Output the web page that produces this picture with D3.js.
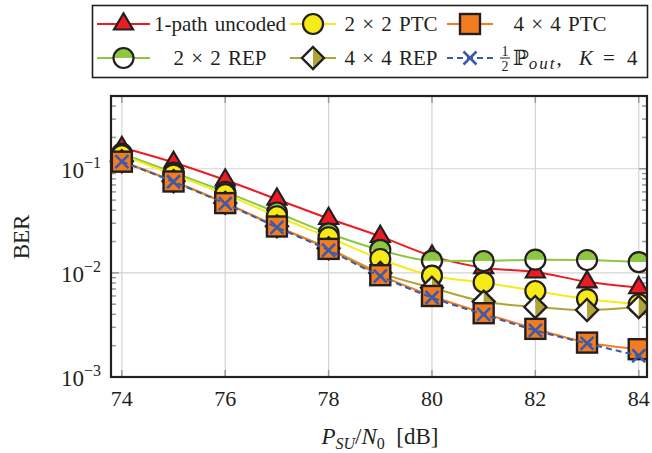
<!DOCTYPE html>
<html lang="en">
<head>
<meta charset="UTF-8">
<title>BER vs PSU/N0</title>
<script src="https://d3js.org/d3.v7.min.js"></script>
<style>
body { margin: 0; background: #fff; }
text { font-family: 'Liberation Serif', 'DejaVu Serif', serif; fill: #231f20; }
</style>
</head>
<body>
<svg id="chart" width="652" height="453"></svg>
<script>
// data
const snr = [74, 75, 76, 77, 78, 79, 80, 81, 82, 83, 84];
const uncoded = [0.160, 0.115, 0.078, 0.051, 0.0333, 0.0224, 0.0145, 0.0112, 0.0102, 0.0082, 0.0072];
const ptc2 = [0.135, 0.088, 0.057, 0.035, 0.0220, 0.0136, 0.0094, 0.0081, 0.0067, 0.0056, 0.0050];
const ptc4 = [0.117, 0.0755, 0.0468, 0.0279, 0.0170, 0.0095, 0.0060, 0.0041, 0.0029, 0.00214, 0.00185];
const rep2 = [0.140, 0.092, 0.060, 0.038, 0.0240, 0.0166, 0.0131, 0.0130, 0.0134, 0.0133, 0.0127];
const rep4 = [0.118, 0.076, 0.047, 0.028, 0.0172, 0.0100, 0.0072, 0.0053, 0.0047, 0.0044, 0.0047];
const pout = [0.117, 0.0750, 0.0462, 0.0274, 0.0165, 0.0093, 0.0058, 0.0040, 0.0028, 0.0021, 0.0016];
const xTicks = [74, 76, 78, 80, 82, 84];
const yTicks = [1e-3, 1e-2, 1e-1];

const svg = d3.select('#chart');
const pLeft = 111, pRight = 647, pTop = 96, pBottom = 377;

const x = d3.scaleLinear().domain([73.79, 84.16]).range([pLeft, pRight]);
const y = d3.scaleLog().domain([1e-3, 0.5]).range([pBottom, pTop]);

const ink = '#231f20';

const series = [
  {name: 'uncoded', vals: uncoded, color: '#ed1c24', marker: 'tri', fill: '#ed1c24'},
  {name: 'rep2', vals: rep2, color: '#8dc63f', marker: 'halfcircle', fill: '#8dc63f'},
  {name: 'ptc2', vals: ptc2, color: '#f6eb16', marker: 'circle', fill: '#f6eb16'},
  {name: 'rep4', vals: rep4, color: '#b1a437', marker: 'diamond', fill: '#b1a437'},
  {name: 'ptc4', vals: ptc4, color: '#f47c20', marker: 'square', fill: '#f47c20'},
  {name: 'pout', vals: pout, color: '#3b5ba9', marker: 'cross', dash: '6,4'}
];

// grid
const grid = svg.append('g');
grid.selectAll('line.gx').data(xTicks).enter().append('line')
  .attr('x1', d => x(d)).attr('x2', d => x(d)).attr('y1', pTop).attr('y2', pBottom)
  .attr('stroke', '#d4d4d4').attr('stroke-width', 1.2);
grid.selectAll('line.gy').data([1e-2, 1e-1]).enter().append('line')
  .attr('x1', pLeft).attr('x2', pRight).attr('y1', d => y(d)).attr('y2', d => y(d))
  .attr('stroke', '#d4d4d4').attr('stroke-width', 1.2);

// ticks (inside, both sides)
const tk = svg.append('g').attr('stroke', '#9a9a9a').attr('stroke-width', 1.5);
xTicks.forEach(v => {
  tk.append('line').attr('x1', x(v)).attr('x2', x(v)).attr('y1', pBottom).attr('y2', pBottom - 7);
  tk.append('line').attr('x1', x(v)).attr('x2', x(v)).attr('y1', pTop).attr('y2', pTop + 7);
});
const minor = [];
[1e-3, 1e-2, 1e-1].forEach(p => { for (let k = 2; k <= 9; k++) if (p * k <= 0.5) minor.push(p * k); });
minor.forEach(v => {
  tk.append('line').attr('x1', pLeft).attr('x2', pLeft + 5).attr('y1', y(v)).attr('y2', y(v));
  tk.append('line').attr('x1', pRight).attr('x2', pRight - 5).attr('y1', y(v)).attr('y2', y(v));
});
yTicks.forEach(v => {
  tk.append('line').attr('x1', pLeft).attr('x2', pLeft + 8).attr('y1', y(v)).attr('y2', y(v));
  tk.append('line').attr('x1', pRight).attr('x2', pRight - 8).attr('y1', y(v)).attr('y2', y(v));
});

// marker drawing
function drawMarker(g, s) {
  const m = s.marker;
  if (m === 'tri') {
    g.append('path').attr('d', 'M0,-10.7L9.5,5.5L-9.5,5.5Z')
      .attr('fill', s.fill).attr('stroke', ink).attr('stroke-width', 2.2).attr('stroke-linejoin', 'miter');
  } else if (m === 'circle') {
    g.append('circle').attr('r', 10).attr('fill', s.fill).attr('stroke', ink).attr('stroke-width', 2.2);
  } else if (m === 'halfcircle') {
    g.append('circle').attr('r', 10).attr('fill', '#fff');
    g.append('path').attr('d', 'M-10,0A10,10 0 0 1 10,0Z').attr('fill', s.fill);
    g.append('circle').attr('r', 10).attr('fill', 'none').attr('stroke', ink).attr('stroke-width', 2.2);
  } else if (m === 'square') {
    g.append('rect').attr('x', -10).attr('y', -10).attr('width', 20).attr('height', 20)
      .attr('fill', s.fill).attr('stroke', ink).attr('stroke-width', 2.4);
  } else if (m === 'diamond') {
    g.append('path').attr('d', 'M0,-11L0,11L-11,0Z').attr('fill', '#fff');
    g.append('path').attr('d', 'M0,-11L11,0L0,11Z').attr('fill', s.fill);
    g.append('path').attr('d', 'M0,-11L11,0L0,11L-11,0Z').attr('fill', 'none')
      .attr('stroke', ink).attr('stroke-width', 2.4);
  } else if (m === 'cross') {
    g.append('path').attr('d', 'M-6.5,-6.5L6.5,6.5M-6.5,6.5L6.5,-6.5')
      .attr('stroke', s.color).attr('stroke-width', 2.6).attr('fill', 'none');
  }
}

svg.append('defs').append('clipPath').attr('id', 'clip')
  .append('rect').attr('x', 0).attr('y', 0).attr('width', pRight + 1).attr('height', 453);

const plot = svg.append('g').attr('clip-path', 'url(#clip)');
const line = d3.line().x(d => x(d[0])).y(d => y(d[1])).curve(d3.curveMonotoneX);

series.forEach(s => {
  const pts = snr.map((v, i) => [v, s.vals[i]]);
  plot.append('path').datum(pts).attr('d', line)
    .attr('fill', 'none').attr('stroke', s.color).attr('stroke-width', 2)
    .attr('stroke-dasharray', s.dash || null);
  pts.forEach(p => {
    const g = plot.append('g').attr('transform', `translate(${x(p[0])},${y(p[1])})`);
    drawMarker(g, s);
  });
});

// frame
svg.append('rect').attr('x', pLeft).attr('y', pTop).attr('width', pRight - pLeft).attr('height', pBottom - pTop)
  .attr('fill', 'none').attr('stroke', ink).attr('stroke-width', 2.2);

// tick labels
svg.selectAll('text.xt').data(xTicks).enter().append('text')
  .attr('x', d => x(d)).attr('y', 406).attr('text-anchor', 'middle')
  .style('font-size', '22px').text(d => d);

yTicks.forEach(v => {
  const t = svg.append('text').attr('x', 101).attr('y', y(v) + 9).attr('text-anchor', 'end')
    .style('font-size', '23px');
  t.append('tspan').text('10');
  t.append('tspan').attr('dy', -10).style('font-size', '16px').text('\u2212' + Math.round(-Math.log10(v)));
});

// axis labels
svg.append('text').attr('transform', 'translate(29,237) rotate(-90)').attr('text-anchor', 'middle')
  .style('font-size', '23px').text('BER');

const xl = svg.append('text').attr('x', 380).attr('y', 444).attr('text-anchor', 'middle').style('font-size', '23px');
xl.append('tspan').style('font-style', 'italic').text('P');
xl.append('tspan').attr('dy', 5).style('font-size', '16px').style('font-style', 'italic').text('SU');
xl.append('tspan').attr('dy', -5).text('/');
xl.append('tspan').style('font-style', 'italic').text('N');
xl.append('tspan').attr('dy', 5).style('font-size', '16px').text('0');
xl.append('tspan').attr('dy', -5).text('\u00a0\u00a0[dB]');

// legend
const leg = svg.append('g');
leg.append('rect').attr('x', 92.5).attr('y', 5.5).attr('width', 555).attr('height', 72)
  .attr('fill', '#fff').attr('stroke', ink).attr('stroke-width', 1.6);

const cols = [{x0: 97, x1: 150, tx: 220}, {x0: 290, x1: 336, tx: 391}, {x0: 447, x1: 493, tx: 560}];
const rows = [24, 58];
const legendItems = [
  {s: series[0], col: 0, row: 0, label: '1-path uncoded'},
  {s: series[2], col: 1, row: 0, label: '2 \u00d7 2 PTC'},
  {s: series[4], col: 2, row: 0, label: '4 \u00d7 4 PTC'},
  {s: series[1], col: 0, row: 1, label: '2 \u00d7 2 REP'},
  {s: series[3], col: 1, row: 1, label: '4 \u00d7 4 REP'},
  {s: series[5], col: 2, row: 1, label: null}
];
legendItems.forEach(it => {
  const c = cols[it.col], yy = rows[it.row];
  leg.append('line').attr('x1', c.x0).attr('x2', c.x1).attr('y1', yy).attr('y2', yy)
    .attr('stroke', it.s.color).attr('stroke-width', 2).attr('stroke-dasharray', it.s.dash || null);
  const g = leg.append('g').attr('transform', `translate(${(c.x0 + c.x1) / 2},${yy})`);
  drawMarker(g, it.s);
  if (it.label) {
    leg.append('text').attr('x', c.tx).attr('y', yy + 7).attr('text-anchor', 'middle')
      .style('font-size', '21px').style('word-spacing', '2px').text(it.label);
  }
});

// 1/2 P_out, K = 4
const py = rows[1];
leg.append('text').attr('x', 505).attr('y', py - 2).attr('text-anchor', 'middle').style('font-size', '14px').text('1');
leg.append('line').attr('x1', 500).attr('x2', 510).attr('y1', py).attr('y2', py).attr('stroke', ink).attr('stroke-width', 1);
leg.append('text').attr('x', 505).attr('y', py + 13).attr('text-anchor', 'middle').style('font-size', '14px').text('2');
const pt = leg.append('text').attr('x', 513).attr('y', py + 7).style('font-size', '21px');
pt.append('tspan').text('\u2119');
pt.append('tspan').attr('dy', 4).style('font-size', '17px').style('font-style', 'italic').style('letter-spacing', '2px').text('out');
pt.append('tspan').attr('dy', -4).text(',');
leg.append('text').attr('x', 579).attr('y', py + 7).style('font-size', '21px').style('font-style', 'italic').text('K');
leg.append('text').attr('x', 603).attr('y', py + 7).style('font-size', '21px').text('=');
leg.append('text').attr('x', 627).attr('y', py + 7).style('font-size', '21px').text('4');
</script>
</body>
</html>
